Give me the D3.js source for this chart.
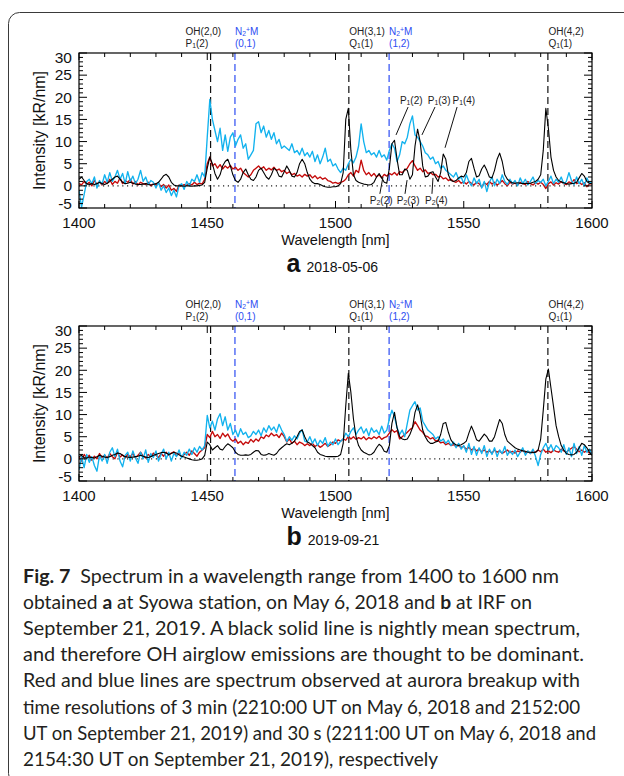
<!DOCTYPE html>
<html lang="en">
<head>
    <meta charset="UTF-8">
    <title>Fig. 7 Spectrum 1400-1600 nm</title>
    <script src="https://d3js.org/d3.v7.min.js"></script>
    <style>
        body { margin: 0; background: #fff; }
        #chart text { font-family: "Liberation Sans", Arial, Helvetica, sans-serif; }
        #chart text.cap { font-family: Lato, "Open Sans", sans-serif; }
    </style>
</head>
<body>
<svg id="chart" width="624" height="776"></svg>
<script>
// spectra are sampled every 1 nm starting at 1400 nm
const startNm = 1400;

// panel a, 2018-05-06
const meanA = [
    1.5, 2.0, 1.2, 0.5, 0.3, 0.5, 0.3, 0.5, 0.8, 0.5,
    0.3, 0.6, 1.0, 1.5, 2.0, 2.2, 1.5, 0.8, 0.5, 0.6,
    0.8, 0.6, 0.4, 0.3, 0.3, 0.4, 0.5, 0.3, 0.2, 0.3,
    0.5, 0.8, 1.5, 2.3, 2.6, 2.0, 0.8, 0.2, 0.0, 0.0,
    0.0, -0.1, 0.0, 0.0, -0.1, 0.0, 0.0, 0.1, 0.2, 0.8,
    4.0, 6.5, 5.0, 2.8, 1.5, 2.5, 4.5, 5.5, 6.0, 4.5,
    2.5, 1.2, 0.8, 1.5, 3.0, 3.8, 2.5, 1.5, 1.2, 2.0,
    3.5, 4.0, 3.0, 2.0, 1.5, 2.5, 4.0, 3.5, 2.2, 2.0,
    3.2, 4.5, 3.5, 2.2, 2.0, 3.0, 5.0, 6.0, 5.0, 3.0,
    1.5, 0.8, 0.5, 0.5, 0.3, 0.0, -0.2, -0.3, -0.3, -0.2,
    -0.2, 0.0, 0.5, 3.0, 15.0, 17.5, 8.0, 2.5, 1.2, 0.8,
    0.6, 0.4, 0.3, 0.2, 0.3, 0.8, 2.0, 2.8, 1.8, 0.8,
    0.6, 4.0, 9.5, 10.3, 6.0, 2.5, 2.5, 3.8, 3.5, 1.5,
    2.5, 9.0, 12.8, 10.0, 4.5, 2.0, 2.2, 3.0, 3.2, 2.0,
    1.0, 3.0, 7.2, 6.0, 2.5, 1.2, 1.0, 1.2, 1.8, 2.2,
    2.0, 3.0, 5.5, 6.2, 4.0, 2.0, 2.3, 3.8, 4.7, 3.5,
    2.0, 1.8, 3.5, 6.0, 7.4, 5.5, 2.5, 1.5, 1.0, 0.7,
    0.6, 0.7, 0.6, 0.5, 0.6, 0.5, 0.6, 0.8, 1.0, 1.5,
    2.5, 8.0, 17.5, 13.0, 6.5, 3.5, 2.0, 1.2, 0.9, 0.7,
    0.5, 0.4, 0.5, 0.6, 0.8, 1.8, 2.8, 2.2, 1.0, 0.6,
    0.5
];
const red3minA = [
    0.5, 0.2, 1.0, 0.3, 0.8, 0.0, 1.2, 0.4, 0.9, 0.2,
    1.0, 0.5, 1.5, 0.3, 1.0, 0.6, 1.8, 0.5, 1.2, 0.8,
    1.5, 0.4, 1.0, 0.2, 0.8, 0.5, 0.3, 0.8, 0.0, 0.5,
    0.2, 0.6, -0.2, 0.3, -0.5, 0.2, -1.0, -0.6, -1.2, 0.2,
    0.0, 0.3, 0.1, 0.5, 0.2, 0.8, 0.3, 0.6, 0.4, 1.5,
    5.0, 6.5, 4.5, 5.0, 4.0, 4.8, 3.8, 4.5, 4.0, 4.6,
    3.8, 4.2, 3.5, 4.0, 3.0, 2.5, 2.0, 2.5, 3.5, 4.0,
    4.5, 3.8, 4.3, 3.5, 4.0, 3.6, 4.2, 3.5, 3.8, 3.2,
    3.5, 2.8, 3.2, 2.5, 2.8, 2.2, 2.5, 2.0, 2.6, 2.2,
    2.5, 1.8, 2.3, 1.6, 2.0, 1.5, 1.8, 1.2, 1.0, 0.6,
    0.8, 0.5, 0.8, 1.0, 1.5, 2.5, 3.0, 2.2, 3.5, 3.0,
    5.8, 3.5, 2.5, 3.0, 2.2, 2.8, 2.0, 2.5, 1.8, 2.6,
    2.2, 2.8, 2.5, 3.0, 2.4, 3.2, 3.0, 3.5, 4.0, 5.0,
    5.7, 4.5, 3.5, 4.0, 3.2, 3.6, 2.8, 3.0, 2.5, 2.6,
    2.0, 2.2, 1.6, 1.8, 1.2, 1.5, 1.0, 0.8, 1.2, 0.6,
    0.9, 0.4, 1.0, 0.6, 0.2, 0.8, 0.5, -0.3, 0.7, 0.3,
    1.0, 0.4, 0.8, 0.2, 0.6, 1.2, 0.5, 0.0, 0.8, 0.4,
    0.6, 0.2, 0.8, 0.5, 0.3, 1.0, 0.5, 0.2, 0.7, 0.4,
    0.8, 0.3, -0.6, 0.5, 0.9, 0.2, 0.7, 0.4, 1.0, 0.5,
    0.3, 0.9, 0.6, 1.4, 0.5, 0.8, 0.3, 0.7, -0.2, 0.4,
    0.5
];
const blue30sA = [
    -1.0, -4.8, -2.0, 1.0, 1.5, 0.5, 2.0, -0.5, 1.2, 0.4,
    2.5, 0.8, 3.0, 1.0, 2.0, 3.5, 1.5, 2.8, 0.5, 3.2,
    1.0, 2.2, 0.5, 1.5, 3.5, 1.0, 2.0, 0.3, 1.2, 0.8,
    -0.5, 0.8, -1.0, 0.0, -1.5, -0.5, -2.2, -1.0, -2.5, 0.0,
    0.5, -0.8, 1.0, 0.0, 1.5, 1.0, 2.5, 0.8, 3.0, 2.0,
    11.0, 19.5, 15.0, 12.5, 10.0, 13.0, 8.0, 11.5, 7.8, 11.0,
    12.0, 9.0, 10.5, 11.5, 8.5, 9.5, 6.0, 7.0, 8.0, 14.0,
    14.5, 12.0, 13.5, 11.0, 12.5, 10.5, 12.0, 9.5, 10.5, 8.5,
    9.0, 8.5, 8.0, 9.5, 7.5, 8.0, 7.0, 8.5, 6.8, 7.5,
    6.5, 7.8, 5.5, 7.0, 5.0, 6.5, 8.5, 5.5, 6.0, 4.5,
    5.0, 3.8, 3.0, 4.0, 3.5, 5.0, 6.0, 5.2, 6.5, 9.0,
    14.0, 10.0, 7.5, 8.0, 7.0, 7.5, 6.5, 8.0, 6.5, 7.0,
    5.8, 8.0, 9.5, 8.5, 5.5, 7.0, 10.0, 9.5, 11.0, 14.0,
    15.8, 11.5, 11.0, 10.0, 9.0, 7.5, 7.0, 6.0, 6.5, 5.0,
    5.5, 4.0, 4.5, 3.5, 3.0, 2.5, 2.0, 3.0, 1.5, 2.0,
    0.5, 2.5, 1.0, 0.0, 1.8, 0.5, 1.5, -0.5, 1.0, -1.3,
    0.8, 2.0, 0.0, 1.5, 0.5, 2.5, 1.0, 0.3, 1.5, 0.5,
    1.2, 0.0, 1.8, 0.5, 1.5, 0.2, 1.0, 2.0, 0.5, 1.2,
    0.8, 1.5, 0.0, 1.0, 2.2, 0.5, 1.5, 0.8, 2.0, 0.5,
    1.0, 3.0, 1.2, 0.3, 2.0, 0.5, 1.5, 0.0, 1.8, 0.5,
    1.0
];

// panel b, 2019-09-21
const meanB = [
    0.5, 0.8, 0.3, 0.2, 0.4, 0.3, 0.2, 0.5, 0.8, 0.6,
    0.4, 0.3, 0.5, 0.8, 1.0, 1.3, 1.2, 0.8, 0.5, 0.4,
    0.3, 0.4, 0.5, 0.6, 0.8, 0.6, 0.4, 0.3, 0.5, 0.8,
    1.0, 1.2, 1.4, 1.5, 1.3, 1.0, 1.2, 1.5, 1.3, 0.9,
    0.6, 0.4, 0.2, 0.0, -0.2, -0.3, -0.3, -0.2, 0.0, 0.8,
    3.8, 3.2, 2.0, 2.5, 3.0, 2.2, 2.0, 2.8, 3.4, 3.0,
    2.5, 1.5, 1.0, 0.8, 0.8, 0.9, 0.8, 1.0, 1.5, 1.9,
    1.8, 1.0, 0.8, 0.9, 1.2, 1.0, 0.8, 1.2, 2.0, 2.5,
    3.0, 3.4, 3.2, 3.5, 4.0, 5.0, 6.2, 6.5, 5.0, 3.8,
    3.5, 3.0, 2.5, 1.5, 1.0, 0.8, 0.6, 0.5, 0.5, 0.5,
    0.5, 0.6, 1.0, 3.5, 12.0, 19.3, 15.0, 9.0, 5.0, 3.0,
    2.0, 1.5, 1.2, 0.9, 1.0, 1.5, 2.5, 3.3, 2.8, 1.7,
    1.5, 3.0, 8.0, 10.5, 7.0, 5.0, 4.5, 4.3, 4.5, 5.5,
    7.0, 10.5, 12.2, 10.0, 6.5, 5.0, 4.0, 3.5, 3.5, 3.8,
    4.0, 5.5, 8.0, 8.2, 6.0, 4.3, 3.5, 3.2, 3.0, 3.2,
    3.5, 4.0, 5.8, 7.4, 6.0, 4.3, 4.0, 4.8, 5.6, 5.0,
    4.0, 4.0, 5.0, 7.0, 8.9, 8.0, 5.5, 4.0, 3.5, 3.0,
    2.5, 2.2, 2.0, 1.8, 1.7, 1.5, 1.5, 1.4, 1.5, 2.0,
    4.5, 11.0, 18.0, 20.3, 16.0, 11.8, 7.5, 5.0, 3.0, 2.0,
    1.2, 1.0, 0.9, 1.0, 1.5, 2.5, 3.5, 3.2, 2.5, 1.5,
    0.8
];
const red3minB = [
    0.5, -0.5, 1.0, 0.2, 0.8, -0.3, 0.6, 0.0, 1.2, 0.3,
    0.8, 0.2, 1.2, 0.5, 0.0, 1.5, 0.4, 0.9, 0.2, 1.0,
    0.5, 1.2, 0.3, 0.8, 1.5, 0.6, 0.2, 1.0, 0.5, 1.3,
    0.8, 0.3, 1.2, 0.6, 1.5, 0.8, 1.3, 1.6, 0.7, 1.2,
    0.5, 1.0, 1.5, 0.8, 1.8, 1.2, 0.6, 1.5, 2.0, 2.5,
    5.5, 4.8, 6.2, 5.0, 5.5, 4.6, 5.8, 5.0, 5.6, 4.5,
    4.0, 4.5, 3.5, 4.0, 3.2, 3.8, 3.5, 4.4, 3.8, 4.5,
    4.0, 5.0, 4.6, 5.4, 5.0, 5.8, 5.2, 5.5, 4.8, 5.8,
    5.0, 3.8, 4.5, 3.5, 4.0, 3.2, 3.8, 3.5, 3.0, 3.4,
    3.0, 3.5, 2.8, 3.2, 2.6, 3.0, 3.5, 2.8, 3.2, 3.8,
    3.5, 4.3, 4.0, 4.5, 4.2, 5.1, 4.5, 5.0, 4.4, 4.8,
    4.5, 5.0, 4.3, 4.8, 4.5, 5.0, 4.6, 5.1, 4.4, 4.8,
    5.0, 5.8, 6.6, 6.0, 6.4, 4.5, 5.0, 5.5, 6.0, 6.6,
    7.0, 8.4, 7.5, 6.5, 6.0, 5.2, 5.0, 4.5, 4.8, 4.0,
    4.2, 3.6, 3.8, 3.2, 3.5, 3.0, 3.2, 2.8, 3.0, 2.6,
    2.8, 2.2, 2.6, 2.0, 2.4, 1.8, 2.2, 1.6, 2.0, 1.5,
    1.8, 1.3, 2.0, 1.5, 1.8, 1.2, 1.6, 2.0, 1.4, 1.7,
    1.3, 1.8, 1.5, 2.0, 1.4, 1.7, 1.2, 1.8, 1.5, 2.0,
    1.6, 2.2, 1.5, 1.8, 1.4, 2.0, 1.7, 1.5, 2.2, 1.8,
    1.5, 2.0, 2.4, 2.8, 2.2, 1.6, 2.0, 1.5, 1.8, 1.3,
    1.5
];
const blue30sB = [
    -2.5, 0.5, -2.0, 1.0, -0.8, 0.5, -1.5, -2.8, 0.8, -0.5,
    1.0, -1.0, 1.5, 2.5, 0.5, 2.2, -0.5, -1.8, 0.8, 1.5,
    -0.5, 1.8, 0.2, -1.0, 1.5, 0.0, 2.0, -0.8, 1.2, 0.3,
    1.8, -0.5, 1.0, 2.2, 0.0, 1.5, -0.5, 1.2, 0.5, 2.0,
    0.2, 1.5, 0.8, 2.2, 1.0, 2.5, 1.5, 2.8, 2.0, 3.0,
    9.8, 7.0, 8.5, 6.5, 9.0, 10.2, 7.5, 9.5, 6.5, 8.0,
    5.5, 6.5, 5.0, 6.8, 5.5, 6.0, 4.8, 5.2, 6.2, 5.5,
    6.5, 5.2, 7.0, 6.0, 7.5, 6.5, 7.2, 6.0, 7.8, 6.5,
    5.5, 3.9, 5.0, 4.2, 5.2, 4.5, 5.8, 6.6, 4.0, 3.8,
    5.0, 3.5, 4.5, 3.0, 4.2, 3.5, 4.8, 2.8, 3.8, 3.2,
    4.5, 3.2, 4.0, 4.5, 5.8, 5.0, 6.2, 7.0, 5.5, 6.5,
    7.2, 5.8, 6.8, 5.2, 7.0, 6.0, 6.5, 5.5, 7.4, 5.8,
    6.5, 9.0, 11.0, 9.5, 7.0, 5.5, 6.5, 5.0, 8.0, 11.0,
    12.0, 12.9, 11.0, 11.5, 8.5, 7.5, 6.5, 6.0, 5.5, 4.5,
    5.0, 4.0, 4.5, 3.5, 4.2, 3.0, 3.8, 2.5, 3.5, 2.2,
    3.0, 1.5, 3.5, 1.0, 2.8, 0.8, 2.5, 1.2, 3.0, 0.5,
    2.2, 1.0, 2.5, 0.5, 2.0, 1.2, 2.8, 0.8, 1.8, 1.0,
    2.0, 0.5, 1.5, 2.5, 0.8, 1.8, 1.2, 2.2, 0.5, -1.5,
    1.0, 2.5, 3.5, 2.0, 3.2, 1.8, 3.0, 2.5, 1.5, 3.2,
    1.0, 2.5, 0.5, 3.5, 1.2, 2.8, 0.8, 3.0, 1.5, 2.2,
    1.0
];

const xTicks = [1400, 1450, 1500, 1550, 1600];
const yTicks = [-5, 0, 5, 10, 15, 20, 25, 30];

// emission line positions [nm]
const ohLines = [1451.3, 1505.2, 1582.8];
const ohNames = [['OH(2,0)', 'P', '1', '(2)'], ['OH(3,1)', 'Q', '1', '(1)'], ['OH(4,2)', 'Q', '1', '(1)']];
const n2Lines = [1460.8, 1520.9];
const n2Bands = ['(0,1)', '(1,2)'];

// panel a line identifications [nm, kR/nm]
const p1Names = ['(2)', '(3)', '(4)'];
const p1LabelNm = [1525.1, 1536.0, 1545.6];
const p1Leaders = [[1528.3, 17.8, 1523.6, 11.5], [1538.8, 17.8, 1533.7, 11.5], [1547.4, 17.8, 1542.7, 8.6]];
const p2Names = ['(2)', '(3)', '(4)'];
const p2LabelNm = [1513.4, 1523.9, 1534.9];
const p2Leaders = [[1517.3, -1.8, 1518.5, 2.0], [1527.1, -1.8, 1527.9, 1.3], [1537.6, -1.8, 1538.0, 1.8]];

const panels = [
    { letter: 'a', date: '2018-05-06', mean: meanA, red: red3minA, blue: blue30sA, top: 53 },
    { letter: 'b', date: '2019-09-21', mean: meanB, red: red3minB, blue: blue30sB, top: 326 }
];

const captionLines = [
    [['Fig. 7', true], ['\u2002Spectrum in a wavelength range from 1400 to 1600 nm', false]],
    [['obtained ', false], ['a', true], [' at Syowa station, on May 6, 2018 and ', false], ['b', true], [' at IRF on', false]],
    [['September 21, 2019. A black solid line is nightly mean spectrum,', false]],
    [['and therefore OH airglow emissions are thought to be dominant.', false]],
    [['Red and blue lines are spectrum observed at aurora breakup with', false]],
    [['time resolutions of 3 min (2210:00 UT on May 6, 2018 and 2152:00', false]],
    [['UT on September 21, 2019) and 30 s (2211:00 UT on May 6, 2018 and', false]],
    [['2154:30 UT on September 21, 2019), respectively', false]]
];
// right end of each caption line in the page
const captionEnds = [559, 532, 580, 584, 580, 580, 596, 438];

const margin = { left: 79, right: 32 };
const svgWidth = 624;
const plotW = svgWidth - margin.left - margin.right;
const plotH = 155;
const blueCol = '#2d4cf2';
const cyanCol = '#12b2ee';
const redCol = '#c40a0a';
const idSize = 10;

const svg = d3.select('#chart');

// figure frame with rounded corners
svg.append('rect')
    .attr('x', 8.5).attr('y', 12.5)
    .attr('width', 660).attr('height', 772)
    .attr('rx', 11)
    .attr('fill', 'none')
    .attr('stroke', '#3a3a3a')
    .attr('stroke-width', 1);

const x = d3.scaleLinear().domain([1400, 1600]).range([0, plotW]);

// text with sub/superscripts: parts = [[text, 'n'|'sub'|'sup'], ...]
function richText(sel, parts, size, subDrop = 2) {
    let shift = 0;
    parts.forEach(([t, kind]) => {
        const target = kind === 'sub' ? subDrop : kind === 'sup' ? -3.5 : 0;
        sel.append('tspan')
            .attr('dy', target - shift)
            .attr('font-size', kind === 'n' ? size : size * 0.68)
            .text(t);
        shift = target;
    });
}

panels.forEach((p, pi) => {
    const y = d3.scaleLinear().domain([-5, 30]).range([plotH, 0]);
    const g = svg.append('g').attr('transform', `translate(${margin.left},${p.top})`);

    g.append('clipPath').attr('id', 'clip' + pi)
        .append('rect').attr('width', plotW).attr('height', plotH);

    // zero level
    g.append('line')
        .attr('x1', 0).attr('x2', plotW)
        .attr('y1', y(0)).attr('y2', y(0))
        .attr('stroke', '#222').attr('stroke-width', 1.1)
        .attr('stroke-dasharray', '1.2,3.6');

    // emission line markers
    ohLines.forEach(nm => {
        g.append('line')
            .attr('x1', x(nm)).attr('x2', x(nm)).attr('y1', 0).attr('y2', plotH)
            .attr('stroke', '#111').attr('stroke-width', 1.2).attr('stroke-dasharray', '7,4');
    });
    n2Lines.forEach(nm => {
        g.append('line')
            .attr('x1', x(nm)).attr('x2', x(nm)).attr('y1', 0).attr('y2', plotH)
            .attr('stroke', blueCol).attr('stroke-width', 1.2).attr('stroke-dasharray', '7,4');
    });

    // spectra
    const line = d3.line()
        .x((d, i) => x(startNm + i))
        .y(d => y(d));
    const series = [[p.red, redCol, 1.35], [p.blue, cyanCol, 1.35], [p.mean, '#000', 1.1]];
    series.forEach(([vals, col, w]) => {
        g.append('path')
            .datum(vals)
            .attr('clip-path', `url(#clip${pi})`)
            .attr('fill', 'none')
            .attr('stroke', col)
            .attr('stroke-width', w)
            .attr('stroke-linejoin', 'round')
            .attr('d', line);
    });

    // box and ticks (IDL style, inward on all four sides)
    g.append('rect').attr('width', plotW).attr('height', plotH)
        .attr('fill', 'none').attr('stroke', '#000').attr('stroke-width', 1.2);

    const xMinor = d3.range(1400, 1601, 10).filter(v => v % 50 !== 0);
    const yMinor = d3.range(-5, 31, 1).filter(v => v % 5 !== 0);
    const tickG = g.append('g').attr('stroke', '#000').attr('stroke-width', 1);
    [[xTicks, 7], [xMinor, 4]].forEach(([vals, len]) => {
        vals.forEach(v => {
            tickG.append('line').attr('x1', x(v)).attr('x2', x(v)).attr('y1', plotH).attr('y2', plotH - len);
            tickG.append('line').attr('x1', x(v)).attr('x2', x(v)).attr('y1', 0).attr('y2', len);
        });
    });
    [[yTicks, 8], [yMinor, 4]].forEach(([vals, len]) => {
        vals.forEach(v => {
            tickG.append('line').attr('x1', 0).attr('x2', len).attr('y1', y(v)).attr('y2', y(v));
            tickG.append('line').attr('x1', plotW).attr('x2', plotW - len).attr('y1', y(v)).attr('y2', y(v));
        });
    });

    // tick labels
    g.selectAll('.xl').data(xTicks).enter().append('text')
        .attr('x', d => x(d)).attr('y', plotH + 19.5)
        .attr('text-anchor', 'middle').attr('font-size', 15).attr('fill', '#111')
        .text(d => d);
    g.selectAll('.yl').data(yTicks).enter().append('text')
        .attr('x', -7).attr('y', d => y(d) + 5.3 + (d === 30 ? 5 : d === -5 ? -4 : 0))
        .attr('text-anchor', 'end').attr('font-size', 15.5).attr('fill', '#111')
        .text(d => d);

    g.append('text')
        .attr('transform', `translate(-34,${plotH / 2}) rotate(-90)`)
        .attr('text-anchor', 'middle').attr('font-size', 16).attr('fill', '#111')
        .text('Intensity [kR/nm]');
    g.append('text')
        .attr('x', plotW / 2).attr('y', plotH + 37)
        .attr('text-anchor', 'middle').attr('font-size', 14.5).attr('fill', '#111')
        .text('Wavelength [nm]');

    const cap = g.append('text')
        .attr('x', plotW / 2 - 49).attr('y', plotH + 64)
        .attr('fill', '#111');
    cap.append('tspan').attr('font-size', 25).attr('font-weight', 'bold').text(p.letter);
    cap.append('tspan').attr('font-size', 14).attr('dx', 6).text(p.date);

    // identification labels above the plot
    ohLines.forEach((nm, i) => {
        const tx = i === 0 ? x(nm) - 25 : x(nm) + 0.5;
        g.append('text').attr('x', tx).attr('y', -18)
            .attr('font-size', idSize).attr('fill', '#222').text(ohNames[i][0]);
        const t = g.append('text').attr('x', tx).attr('y', -6.5)
            .attr('font-size', idSize).attr('fill', '#222');
        richText(t, [[ohNames[i][1], 'n'], [ohNames[i][2], 'sub'], [ohNames[i][3], 'n']], idSize, 1.5);
    });
    n2Lines.forEach((nm, i) => {
        const t = g.append('text').attr('x', x(nm)).attr('y', -18)
            .attr('font-size', idSize).attr('fill', blueCol);
        richText(t, [['N', 'n'], ['2', 'sub'], ['+', 'sup'], ['M', 'n']], idSize, 1.2);
        g.append('text').attr('x', x(nm)).attr('y', -6.5)
            .attr('font-size', idSize).attr('fill', blueCol).text(n2Bands[i]);
    });

    // OH P-branch identifications, panel a only
    if (pi === 0) {
        const ann = g.append('g');
        [[p1Names, p1LabelNm, p1Leaders, 18.5, '1'], [p2Names, p2LabelNm, p2Leaders, -4.1, '2']]
            .forEach(([names, pos, leaders, level, branch]) => {
                names.forEach((nm, i) => {
                    const t = ann.append('text').attr('x', x(pos[i])).attr('y', y(level))
                        .attr('font-size', 10).attr('fill', '#222');
                    richText(t, [['P', 'n'], [branch, 'sub'], [nm, 'n']], 10, 1.2);
                });
                leaders.forEach(l => {
                    ann.append('line')
                        .attr('x1', x(l[0])).attr('y1', y(l[1]))
                        .attr('x2', x(l[2])).attr('y2', y(l[3]))
                        .attr('stroke', '#111').attr('stroke-width', 1);
                });
            });
    }
});

// figure caption: one font size, each line then fitted to where it ends in the page
const capX = 23;
const capTop = 583;
const capStep = 26.1;
const capSize = 19;

captionLines.forEach((parts, i) => {
    const t = svg.append('text').attr('class', 'cap')
        .attr('x', capX).attr('y', capTop + i * capStep)
        .attr('font-size', capSize).attr('fill', '#231f20');
    parts.forEach(([s, bold]) => {
        t.append('tspan').attr('font-weight', bold ? 'bold' : 'normal').text(s);
    });
    t.attr('textLength', captionEnds[i] - capX).attr('lengthAdjust', 'spacingAndGlyphs');
});
</script>
</body>
</html>
